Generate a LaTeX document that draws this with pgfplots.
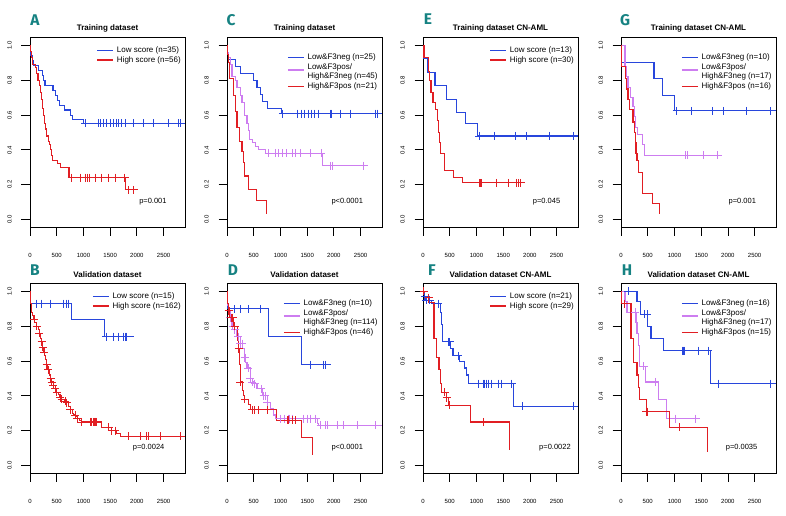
\documentclass[border=0pt]{standalone}
\usepackage{pgfplots}
\pgfplotsset{compat=1.18}
\usepackage{fontspec}
\setmainfont{Liberation Sans}
\newfontfamily\letterfont{Fira Sans}
\definecolor{kmblue}{RGB}{40,70,220}
\definecolor{kmred}{RGB}{225,30,35}
\definecolor{kmviolet}{RGB}{205,125,240}
\definecolor{panelteal}{RGB}{22,130,130}
\pgfplotsset{
  km/.style={
    scale only axis, width=155pt, height=190pt,
    xmin=0, xmax=2900, ymin=-0.045, ymax=1.047,
    xtick={0,500,1000,1500,2000,2500},
    ytick={0,0.2,0.4,0.6,0.8,1.0},
    tick align=outside, major tick length=8.5pt,
    tick pos=left,
    axis line style={line width=0.8pt, black},
    every tick/.style={black, line width=0.8pt},
    tick label style={font=\fontsize{6}{7}\selectfont},
    /pgf/number format/assume math mode=true,
    yticklabel style={rotate=90, anchor=south, inner sep=0pt, yshift=9.5pt,
      /pgf/number format/fixed, /pgf/number format/fixed zerofill, /pgf/number format/precision=1},
    xticklabel style={yshift=-14pt, /pgf/number format/1000 sep={}},
    title style={font=\bfseries\fontsize{8}{9}\selectfont, yshift=-4pt},
    legend style={draw=none, fill=none, at={(1,1)}, anchor=north east, xshift=-3pt, yshift=-8.5pt,
      font=\fontsize{8}{9.7}\selectfont, nodes={inner sep=1pt}, row sep=0pt, column sep=2pt, inner sep=0pt},
    legend cell align=left,
    legend image code/.code={\draw[#1, line width=1.2pt] (0pt,0pt) -- (16pt,0pt);},
  },
  km3/.style={km, legend style={yshift=-6.5pt, nodes={inner sep=1.2pt}}},
  curve/.style={const plot, line width=1.1pt, mark=none},
  cens/.style={only marks, mark=+, mark size=4pt, forget plot, color=#1, mark options={draw=#1, line width=0.9pt}},
  vleg/.style={legend image code/.code={\draw[##1, line width=1.2pt] (0pt,-3pt) -- (16pt,-3pt);}},
}
\tikzset{pv/.style={font=\fontsize{7.5}{9}\selectfont}}
\begin{document}
\begin{tikzpicture}
\useasboundingbox (0,0) rectangle (786pt,-515pt);
% ---------------- A ----------------
\begin{axis}[km, at={(30pt,-37.3pt)}, anchor=north west, title={Training dataset}]
\addplot[curve, kmblue] coordinates {(0,1) (8,0.97) (15,0.94) (40,0.915) (60,0.886) (160,0.857) (240,0.829) (260,0.80) (280,0.77) (430,0.743) (470,0.714) (520,0.686) (560,0.657) (650,0.629) (750,0.60) (790,0.577) (1000,0.553) (2900,0.553)};
\addlegendentry{Low score (n=35)}
\addplot[curve, kmred] coordinates {(0,1) (10,0.964) (25,0.93) (45,0.89) (110,0.875) (130,0.84) (150,0.80) (170,0.77) (190,0.73) (210,0.69) (230,0.64) (250,0.60) (270,0.55) (290,0.52) (310,0.48) (340,0.45) (365,0.43) (385,0.40) (400,0.37) (420,0.34) (520,0.32) (570,0.30) (730,0.24) (1790,0.17) (1970,0.17)};
\addlegendentry{High score (n=56)}
\addplot[cens=kmblue] coordinates {(1031,0.553) (1281,0.553) (1312,0.553) (1375,0.553) (1437,0.553) (1500,0.553) (1562,0.553) (1625,0.553) (1656,0.553) (1719,0.553) (1781,0.553) (1937,0.553) (2125,0.553) (2312,0.553) (2594,0.553) (2781,0.553) (2812,0.553)};
\addplot[cens=kmred] coordinates {(781,0.24) (937,0.24) (1031,0.24) (1075,0.24) (1112,0.24) (1219,0.24) (1344,0.24) (1469,0.24) (1594,0.24) (1775,0.24) (1844,0.17) (1937,0.17)};
\node[pv] at (axis cs:2300,0.105) {p=0.001};
\end{axis}
% ---------------- C ----------------
\begin{axis}[km3, at={(227pt,-37.3pt)}, anchor=north west, title={Training dataset}]
\addplot[curve, kmblue] coordinates {(0,1) (12,0.96) (31,0.92) (156,0.88) (250,0.84) (500,0.80) (562,0.76) (625,0.72) (656,0.68) (750,0.64) (1020,0.608) (2900,0.608)};
\addlegendentry{Low\&F3neg (n=25)}
\addplot[curve, kmviolet, vleg] coordinates {(0,1) (12,0.96) (31,0.93) (62,0.89) (94,0.82) (156,0.80) (187,0.76) (250,0.71) (281,0.67) (331,0.60) (375,0.55) (406,0.51) (425,0.46) (469,0.44) (531,0.42) (594,0.40) (719,0.38) (1790,0.31) (2625,0.31)};
\addlegendentry{Low\&F3pos/}
\addlegendimage{empty legend}
\addlegendentry{High\&F3neg (n=45)}
\addplot[curve, kmred] coordinates {(0,1) (12,0.95) (25,0.90) (44,0.81) (125,0.71) (156,0.62) (187,0.53) (240,0.45) (281,0.39) (310,0.33) (331,0.25) (394,0.17) (550,0.11) (731,0.03)};
\addlegendentry{High\&F3pos (n=21)}
\addplot[cens=kmblue] coordinates {(1044,0.608) (1312,0.608) (1394,0.608) (1456,0.608) (1519,0.608) (1581,0.608) (1644,0.608) (1706,0.608) (1937,0.608) (1956,0.608) (2125,0.608) (2312,0.608) (2781,0.608) (2812,0.608)};
\addplot[cens=kmviolet] coordinates {(781,0.38) (906,0.38) (969,0.38) (1044,0.38) (1106,0.38) (1219,0.38) (1281,0.38) (1375,0.38) (1562,0.38) (1762,0.38) (1937,0.31) (1969,0.31) (2562,0.31)};
\node[pv] at (axis cs:2250,0.105) {p<0.0001};
\end{axis}
% ---------------- E ----------------
\begin{axis}[km, at={(423pt,-37.3pt)}, anchor=north west, title={Training dataset CN-AML}]
\addplot[curve, kmblue] coordinates {(0,1) (3,0.923) (78,0.846) (225,0.769) (445,0.692) (635,0.615) (790,0.55) (1015,0.48) (2900,0.48)};
\addlegendentry{Low score (n=13)}
\addplot[curve, kmred] coordinates {(0,1) (19,0.93) (100,0.85) (115,0.80) (150,0.73) (187,0.67) (240,0.63) (269,0.57) (294,0.50) (315,0.44) (331,0.38) (395,0.28) (575,0.24) (745,0.21) (1906,0.21)};
\addlegendentry{High score (n=30)}
\addplot[cens=kmblue] coordinates {(1050,0.48) (1344,0.48) (1737,0.48) (1937,0.48) (2362,0.48) (2812,0.48)};
\addplot[cens=kmred] coordinates {(1050,0.21) (1075,0.21) (1094,0.21) (1375,0.21) (1594,0.21) (1750,0.21) (1781,0.21) (1825,0.21)};
\node[pv] at (axis cs:2312,0.10) {p=0.045};
\end{axis}
% ---------------- G ----------------
\begin{axis}[km3, at={(621pt,-37.3pt)}, anchor=north west, title={Training dataset CN-AML}]
\addplot[curve, kmblue] coordinates {(0,1) (6,0.90) (618,0.81) (775,0.715) (997,0.624) (2900,0.624)};
\addlegendentry{Low\&F3neg (n=10)}
\addplot[curve, kmviolet, vleg] coordinates {(0,1) (75,0.88) (100,0.82) (131,0.76) (175,0.70) (225,0.65) (250,0.59) (269,0.53) (312,0.49) (400,0.43) (437,0.37) (1894,0.37)};
\addlegendentry{Low\&F3pos/}
\addlegendimage{empty legend}
\addlegendentry{High\&F3neg (n=17)}
\addplot[curve, kmred] coordinates {(0,1) (6,0.88) (81,0.81) (110,0.75) (131,0.69) (162,0.63) (225,0.56) (250,0.50) (265,0.44) (281,0.38) (300,0.34) (331,0.27) (406,0.15) (581,0.09) (719,0.03)};
\addlegendentry{High\&F3pos (n=16)}
\addplot[cens=kmblue] coordinates {(1042,0.624) (1323,0.624) (1716,0.624) (1914,0.624) (2339,0.624) (2800,0.624)};
\addplot[cens=kmviolet] coordinates {(1206,0.37) (1237,0.37) (1550,0.37) (1800,0.37) (1812,0.37)};
\node[pv] at (axis cs:2269,0.10) {p=0.001};
\end{axis}
% ---------------- B ----------------
\begin{axis}[km, at={(30pt,-283.3pt)}, anchor=north west, title={Validation dataset}]
\addplot[curve, kmblue] coordinates {(0,1) (12,0.93) (781,0.84) (1387,0.74) (1937,0.74)};
\addlegendentry{Low score (n=15)}
\addplot[curve, kmred] coordinates {(0,1) (5,0.96) (12,0.93) (20,0.90) (31,0.88) (50,0.86) (62,0.84) (90,0.82) (125,0.80) (160,0.78) (175,0.76) (200,0.73) (219,0.71) (235,0.68) (250,0.65) (270,0.63) (290,0.61) (312,0.58) (335,0.55) (362,0.52) (385,0.50) (406,0.48) (435,0.46) (469,0.44) (500,0.42) (531,0.41) (562,0.39) (594,0.38) (650,0.37) (687,0.36) (720,0.34) (750,0.32) (790,0.30) (812,0.29) (850,0.28) (887,0.27) (930,0.26) (969,0.25) (1344,0.22) (1530,0.20) (1625,0.185) (1690,0.168) (2900,0.168)};
\addlegendentry{High score (n=162)}
\addplot[cens=kmblue] coordinates {(112,0.93) (219,0.93) (387,0.93) (625,0.93) (675,0.93) (719,0.93) (1425,0.74) (1562,0.74) (1656,0.74) (1750,0.74) (1781,0.74) (1812,0.74)};
\addplot[cens=kmred] coordinates {(75,0.84) (125,0.80) (175,0.76) (219,0.71) (237,0.68) (262,0.65) (312,0.58) (344,0.55) (387,0.50) (406,0.48) (437,0.46) (469,0.44) (500,0.42) (562,0.39) (594,0.38) (656,0.37) (687,0.36) (750,0.32) (844,0.29) (887,0.27) (969,0.25) (1125,0.25) (1156,0.25) (1187,0.25) (1200,0.25) (1219,0.25) (1230,0.25) (1250,0.25) (1469,0.22) (1531,0.20) (1594,0.20) (1844,0.168) (2062,0.168) (2187,0.168) (2219,0.168) (2437,0.168) (2812,0.168)};
\node[pv] at (axis cs:2219,0.105) {p=0.0024};
\end{axis}
% ---------------- D ----------------
\begin{axis}[km3, at={(227pt,-283.3pt)}, anchor=north west, title={Validation dataset}]
\addplot[curve, kmblue] coordinates {(0,1) (12,0.90) (781,0.74) (1387,0.58) (1937,0.58)};
\addlegendentry{Low\&F3neg (n=10)}
\addplot[curve, kmviolet, vleg] coordinates {(0,1) (6,0.95) (12,0.92) (31,0.89) (62,0.85) (94,0.80) (144,0.78) (187,0.74) (250,0.70) (294,0.67) (331,0.62) (350,0.59) (375,0.56) (437,0.50) (469,0.48) (500,0.47) (562,0.44) (656,0.40) (750,0.36) (812,0.33) (875,0.29) (906,0.27) (1687,0.24) (1720,0.23) (2900,0.23)};
\addlegendentry{Low\&F3pos/}
\addlegendimage{empty legend}
\addlegendentry{High\&F3neg (n=114)}
\addplot[curve, kmred] coordinates {(0,1) (12,0.93) (31,0.89) (50,0.85) (112,0.80) (200,0.72) (219,0.67) (235,0.58) (250,0.48) (294,0.43) (310,0.40) (331,0.38) (406,0.35) (437,0.32) (919,0.26) (1387,0.16) (1606,0.06)};
\addlegendentry{High\&F3pos (n=46)}
\addplot[cens=kmblue] coordinates {(144,0.90) (250,0.90) (394,0.90) (625,0.90) (1562,0.58) (1812,0.58) (1844,0.58)};
\addplot[cens=kmviolet] coordinates {(31,0.89) (62,0.85) (106,0.80) (144,0.78) (206,0.74) (250,0.70) (281,0.70) (331,0.62) (344,0.62) (394,0.56) (437,0.50) (469,0.48) (519,0.47) (644,0.44) (687,0.40) (719,0.40) (750,0.36) (1000,0.27) (1081,0.27) (1144,0.27) (1169,0.27) (1219,0.27) (1437,0.27) (1500,0.27) (1562,0.27) (1656,0.27) (1750,0.23) (1844,0.23) (1875,0.23) (2062,0.23) (2187,0.23) (2437,0.23) (2781,0.23)};
\addplot[cens=kmred] coordinates {(31,0.89) (44,0.89) (81,0.85) (106,0.85) (144,0.80) (219,0.67) (250,0.48) (331,0.38) (469,0.32) (519,0.32) (594,0.32) (750,0.32) (1125,0.26) (1156,0.26) (1219,0.26) (1281,0.26)};
\node[pv] at (axis cs:2250,0.105) {p<0.0001};
\end{axis}
% ---------------- F ----------------
\begin{axis}[km, at={(423pt,-283.3pt)}, anchor=north west, title={Validation dataset CN-AML}]
\addplot[curve, kmblue] coordinates {(0,1) (25,0.97) (50,0.95) (156,0.93) (325,0.88) (344,0.81) (362,0.71) (512,0.67) (562,0.63) (687,0.60) (781,0.56) (820,0.52) (844,0.47) (1700,0.34) (2900,0.34)};
\addlegendentry{Low score (n=21)}
\addplot[curve, kmred] coordinates {(0,1) (25,0.965) (110,0.935) (206,0.73) (250,0.62) (300,0.55) (325,0.47) (344,0.42) (440,0.39) (475,0.345) (894,0.25) (1612,0.09)};
\addlegendentry{High score (n=29)}
\addplot[cens=kmblue] coordinates {(31,0.97) (62,0.95) (125,0.95) (281,0.93) (469,0.71) (500,0.71) (656,0.63) (1031,0.47) (1125,0.47) (1156,0.47) (1187,0.47) (1219,0.47) (1281,0.47) (1406,0.47) (1469,0.47) (1656,0.47) (1862,0.34) (2812,0.34)};
\addplot[cens=kmred] coordinates {(15,1.0) (106,0.965) (406,0.42) (440,0.39) (487,0.345) (1125,0.25)};
\node[pv] at (axis cs:2469,0.105) {p=0.0022};
\end{axis}
% ---------------- H ----------------
\begin{axis}[km3, at={(621pt,-283.3pt)}, anchor=north west, title={Validation dataset CN-AML}]
\addplot[curve, kmblue] coordinates {(0,1) (300,0.94) (362,0.87) (500,0.80) (562,0.73) (794,0.66) (1675,0.47) (2900,0.47)};
\addlegendentry{Low\&F3neg (n=16)}
\addplot[curve, kmviolet, vleg] coordinates {(0,1) (75,0.94) (112,0.88) (280,0.82) (300,0.76) (320,0.69) (344,0.57) (456,0.48) (706,0.38) (844,0.27) (1487,0.27)};
\addlegendentry{Low\&F3pos/}
\addlegendimage{empty legend}
\addlegendentry{High\&F3neg (n=17)}
\addplot[curve, kmred] coordinates {(0,1) (6,0.93) (187,0.73) (237,0.59) (300,0.52) (319,0.45) (344,0.38) (469,0.31) (906,0.22) (1612,0.08)};
\addlegendentry{High\&F3pos (n=15)}
\addplot[cens=kmblue] coordinates {(131,1.0) (444,0.87) (487,0.87) (1156,0.66) (1175,0.66) (1194,0.66) (1456,0.66) (1631,0.66) (1831,0.47) (2800,0.47)};
\addplot[cens=kmviolet] coordinates {(269,0.88) (425,0.57) (644,0.48) (1019,0.27) (1394,0.27)};
\addplot[cens=kmred] coordinates {(69,0.93) (475,0.31) (487,0.31) (1100,0.22)};
\node[pv] at (axis cs:2256,0.105) {p=0.0035};
\end{axis}
% ---------------- panel letters ----------------
\begin{scope}[every node/.style={font=\letterfont\bfseries\fontsize{15.5}{15.5}\selectfont, text=panelteal}]
\node at (35pt,-20pt) {A};
\node at (231pt,-20pt) {C};
\node at (428pt,-19pt) {E};
\node at (625pt,-20pt) {G};
\node at (35pt,-270pt) {B};
\node at (233pt,-270pt) {D};
\node at (432pt,-270pt) {F};
\node at (627pt,-270pt) {H};
\end{scope}
\end{tikzpicture}
\end{document}
